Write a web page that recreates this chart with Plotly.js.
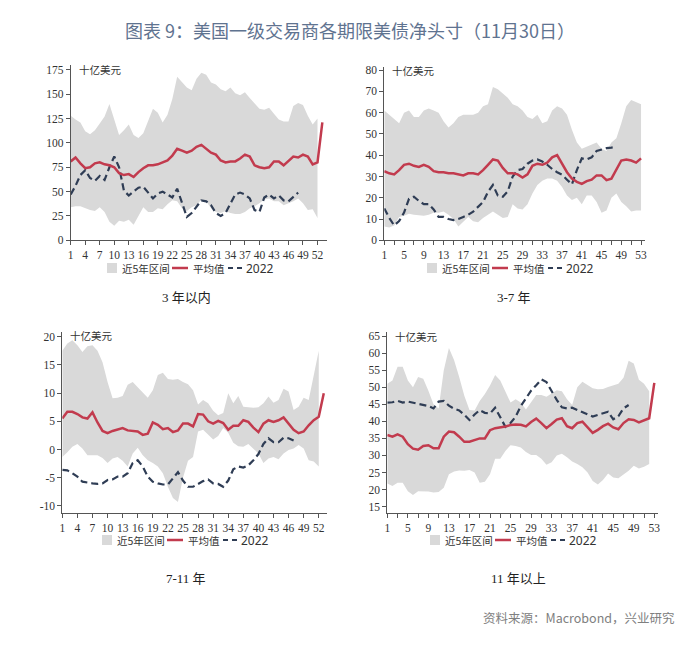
<!DOCTYPE html>
<html>
<head>
<meta charset="utf-8">
<script src="https://cdn.plot.ly/plotly-3.0.1.min.js"></script>
<style>
html,body{margin:0;padding:0;background:#fff;}
#chart{width:700px;height:657px;}
</style>
</head>
<body>
<div id="chart"></div>
<script>
// ---------------- DATA ----------------
const chartTitle = "图表 9：美国一级交易商各期限美债净头寸（11月30日）";
const sourceText = "资料来源：Macrobond，兴业研究";
const panelTitles = ["3 年以内", "3-7 年", "7-11 年", "11 年以上"];
const unitLabel = "十亿美元";
const legendNames = ["近5年区间", "平均值", "2022"];

const weeks = [1,2,3,4,5,6,7,8,9,10,11,12,13,14,15,16,17,18,19,20,21,22,23,24,25,26,27,28,29,30,31,32,33,34,35,36,37,38,39,40,41,42,43,44,45,46,47,48,49,50,51,52,53];

// Panel 1: 3 年以内
const p1Upper = [128,124,121,112,109,113,120,127,140,125,108,113,119,108,105,110,122,135,131,121,129,145,168,163,157,154,166,172,170,162,160,155,153,157,151,149,152,146,140,135,134,136,130,124,122,122,138,141,139,128,119,125];
const p1Lower = [34,35,35,33,31,30,34,29,19,15,20,19,21,16,25,34,29,29,33,32,37,41,40,33,30,34,36,42,40,33,29,28,30,28,27,27,29,33,35,38,42,43,40,40,36,38,40,43,38,31,32,23];
const p1Mean  = [81,85,79,74,75,79,80,78,77,75,69,67,68,65,70,74,77,77,78,80,82,87,94,92,90,92,96,98,94,90,88,82,80,81,81,84,88,86,77,75,74,75,81,81,77,81,86,85,88,86,78,80,121];
const p1Y2022 = [47,56,67,72,64,61,66,62,75,86,75,51,46,50,54,55,49,43,48,50,47,44,53,38,24,28,35,41,40,36,28,25,28,38,47,49,47,43,31,29,44,47,43,46,41,40,45,49];

// Panel 2: 3-7 年
const p2Upper = [61,59,57,55,60,61,58,58,61,62,61,60,56,53,55,58,59,59,59,60,63,64,72,71,69,67,64,63,61,58,57,59,55,56,61,63,62,59,52,46,43,44,45,46,43,42,46,48,55,63,66,65,64];
const p2Lower = [6.5,6,7,11,11.5,12.5,12,11.8,11.5,12,13,13,13.5,12,10,6.5,9,11,9,8.5,10.5,12,13.5,12,10.5,11,17,15,14.5,17,22,26,28,29,29,28,25,21,19,20,17,21,21,18,13,14,20,22,18,16,13.5,14,14];
const p2Mean  = [32.5,31.5,31,33,35.5,36,35,34.5,35.5,34.5,32.5,32,32,31.5,31.5,31,30.5,31.5,31.5,31,33,35.5,38,37.5,34,31.5,31.5,31,29.5,31,35,36,35.5,36.5,39,40,36,32,29,27.5,26.5,27.8,28.5,30.5,30.5,28.3,29,33,37.5,38,37.5,36.5,38.5];
const p2Y2022 = [15,10.5,7,9,13,19.5,20.5,18.5,17,17,14.5,11,11,10,9.5,10,11,12,13.5,16,18,22.8,26,21,20.5,23,30,33,33.5,36,37.5,38,37,35.5,33.5,32,30.8,28.5,26.3,33,38.5,38,39,42,42.8,43.3,43.6,44];

// Panel 3: 7-11 年
const p3Upper = [17.5,18.8,19.4,18.5,17.3,18.3,18.5,17.5,15.5,12,9.1,9.2,9.5,11.5,12,11,10,9.2,10.5,13.2,13.6,12.5,12.4,12.5,12,11.6,10.5,8,8.8,8.2,6.9,6.1,6.5,10,8.2,9.5,7.6,7.5,7.4,7.5,8.2,9.4,8.3,8.8,10.8,10.3,7,7.6,9.2,8.8,13,17.5];
const p3Lower = [-1.3,-0.5,0.5,1,0.2,-1,-1,-1,-1.5,-2.4,-1.6,-1.3,-2,-3,-0.7,0.3,-1,-1.9,-2.4,-3,-4.2,-6.6,-8.6,-9.3,-5,-2,-1.3,3.2,3.5,2.6,1.8,2.4,3.8,3,1.2,0.6,0.5,1,0.2,-0.7,-2.4,-1.6,-1.3,-1.7,-0.7,-0.1,0.2,0.8,0.2,-1.9,-2.1,-3];
const p3Mean  = [5.5,6.7,6.7,6.3,5.7,5.5,6.6,4.8,3.3,2.9,3.3,3.6,3.8,3.4,3.3,3.2,2.6,2.8,4.8,4.4,3.6,3.8,3.1,3.4,4.6,4.6,4.1,6.3,6.2,5,4.6,5.1,4.7,3.5,4.2,4.2,5.2,4.9,3.9,3.1,4.6,5.2,4.9,5.2,5.7,4.6,3.5,2.9,3.2,4.3,5.2,5.8,10];
const p3Y2022 = [-3.6,-3.7,-4.2,-4.8,-5.7,-5.9,-6,-6.1,-6,-5.4,-5.3,-4.8,-4.8,-4.2,-2.4,-1.9,-3,-4.8,-5.7,-6,-6.2,-6.2,-5,-4,-5.5,-6.6,-6.6,-6.1,-5.6,-5.3,-6,-6.1,-6.6,-5.5,-3.5,-3,-3.2,-2.8,-1.9,-0.8,1,2,1.3,1.3,2.1,2,1.6];

// Panel 4: 11 年以上
const p4Upper = [51,52,56,56,52,50,53,52.5,49,45,43.8,55,61.5,58,53,47.5,43.3,43.2,46,48,50.5,53.6,52,48.5,45.5,46.5,45.5,43.5,45.5,47.7,47.7,47.2,48.2,49.1,48.8,46.5,44.8,50,51.6,50.7,49.7,49.4,49.5,50.1,50.6,51,52.8,57.8,57,52.2,51,48.8];
const p4Lower = [21.8,21,22,22,19.5,18.4,19.5,19.5,19.4,19.1,19.3,20.5,24.5,25.3,25.6,25.5,25.7,25,22,22.3,24.5,29,29,31.3,33,32.8,32.3,31,30.1,30.1,29,27.3,28,30,30.5,29.5,28.2,27.5,26.5,25,22.5,21.5,22.8,24.7,23.5,23.3,24.5,25.5,27,26.2,26.7,27.5];
const p4Mean  = [36,35.5,36.2,35.5,33.3,32,31.7,32.8,33,32.1,32.1,35.5,37,36.8,35.5,34,34,34.5,35,35,37.4,38,38.2,38.5,38.9,39.1,39,38.5,39.8,40.8,39.5,38,39.2,40.5,40.9,38.6,38,39.5,39.9,38.2,36.6,37.5,38.6,39.3,38.2,37.7,39.5,40.6,40.4,39.7,40.2,40.9,51.3];
const p4Y2022 = [45.5,45.6,46,45.5,45.8,45.5,45.1,44.8,44.5,43.8,45.8,46,44.6,43.7,43.2,41.9,40.4,42,43.3,42.5,42.3,44,41,38.4,39.5,41.4,44.5,46.7,49,50.6,52.3,51.5,48.7,46.3,44.1,43.8,44,43.3,42.7,41.9,41.4,41.9,42.4,42.8,40.6,41.5,43.8,44.8];

// tick labels
const xTicksA = [1,4,7,10,13,16,19,22,25,28,31,34,37,40,43,46,49,52];
const xTicksB = [1,5,9,13,17,21,25,29,33,37,41,45,49,53];
const yTicks1 = [0,25,50,75,100,125,150,175];
const yTicks2 = [0,10,20,30,40,50,60,70,80];
const yTicks3 = [-10,-5,0,5,10,15,20];
const yTicks4 = [15,20,25,30,35,40,45,50,55,60,65];

// ---------------- STYLE / LAYOUT ----------------
const W = 700, H = 657;
const px = x => x / W;
const py = y => 1 - y / H;

const BAND = '#d9d9d9';
const MEAN = '#c23b4e';
const DASHC = '#2f3d55';
const AXC = '#555555';
const TICKFONT = {family: 'Liberation Serif, Times New Roman, serif', size: 11.5, color: '#333'};
const CJK = 'Noto Sans CJK SC, sans-serif';

const panels = [
  {upper:p1Upper, lower:p1Lower, mean:p1Mean, y22:p1Y2022, xd:[70.7,326.7], yd:[65,240.3], yr:[0,180], xr:[1,53.9], xt:xTicksA, yt:yTicks1, minor:false, leg:[107,268], unit:[77,69], title:[186,297]},
  {upper:p2Upper, lower:p2Lower, mean:p2Mean, y22:p2Y2022, xd:[384.3,645], yd:[66.7,240.3], yr:[0,81.6], xr:[1,53.8], xt:xTicksB, yt:yTicks2, minor:true, leg:[427,268], unit:[390,70], title:[514,297]},
  {upper:p3Upper, lower:p3Lower, mean:p3Mean, y22:p3Y2022, xd:[62.3,327.3], yd:[331.7,512.7], yr:[-11.2,20.9], xr:[1,53.7], xt:xTicksA, yt:yTicks3, minor:false, leg:[102,540], unit:[68,335], title:[186,578]},
  {upper:p4Upper, lower:p4Lower, mean:p4Mean, y22:p4Y2022, xd:[387.3,657.7], yd:[331.7,512.7], yr:[13.2,66.3], xr:[1,53.66], xt:xTicksB, yt:yTicks4, minor:true, leg:[430,540], unit:[393,336], title:[518,578]}
];

const traces = [];
const layout = {
  width: W, height: H,
  margin: {l:0, r:0, t:0, b:0},
  paper_bgcolor: '#ffffff', plot_bgcolor: 'rgba(0,0,0,0)',
  showlegend: false,
  annotations: [], shapes: []
};

panels.forEach((p, i) => {
  const n = i + 1;
  const xa = 'x' + (n === 1 ? '' : n), ya = 'y' + (n === 1 ? '' : n);
  const bandX = weeks.slice(0, p.upper.length);
  traces.push({x: bandX, y: p.lower, xaxis: xa, yaxis: ya, type: 'scatter', mode: 'lines',
    line: {width: 0, color: BAND}, hoverinfo: 'skip', name: legendNames[0]});
  traces.push({x: bandX, y: p.upper, xaxis: xa, yaxis: ya, type: 'scatter', mode: 'lines',
    fill: 'tonexty', fillcolor: BAND, line: {width: 0, color: BAND}, name: legendNames[0]});
  traces.push({x: weeks.slice(0, p.y22.length), y: p.y22, xaxis: xa, yaxis: ya, type: 'scatter', mode: 'lines',
    line: {width: 2.2, color: DASHC, dash: '7px,4px'}, name: legendNames[2]});
  traces.push({x: weeks.slice(0, p.mean.length), y: p.mean, xaxis: xa, yaxis: ya, type: 'scatter', mode: 'lines',
    line: {width: 2.5, color: MEAN}, name: legendNames[1]});

  const xk = 'xaxis' + (n === 1 ? '' : n), yk = 'yaxis' + (n === 1 ? '' : n);
  layout[xk] = {
    domain: [px(p.xd[0]), px(p.xd[1])], anchor: ya, range: p.xr,
    tickmode: 'array', tickvals: p.xt, ticktext: p.xt.map(String),
    showline: true, linecolor: AXC, linewidth: 1, ticks: 'outside', ticklen: 4, tickcolor: AXC,
    showgrid: false, zeroline: false, tickfont: TICKFONT, fixedrange: true
  };
  if (p.minor) {
    layout[xk].minor = {tickmode: 'linear', tick0: 1, dtick: 2, ticks: 'outside', ticklen: 4, tickcolor: AXC, showgrid: false};
  }
  layout[yk] = {
    domain: [py(p.yd[1]), py(p.yd[0])], anchor: xa, range: p.yr,
    tickmode: 'array', tickvals: p.yt, ticktext: p.yt.map(String),
    showline: true, linecolor: AXC, linewidth: 1, ticks: 'outside', ticklen: 4, tickcolor: AXC,
    showgrid: false, zeroline: false, tickfont: TICKFONT, fixedrange: true
  };

  // unit label
  layout.annotations.push({xref:'paper', yref:'paper', x: px(p.unit[0]), y: py(p.unit[1]), xanchor:'left', yanchor:'middle',
    text: unitLabel, showarrow:false, font:{family: CJK, size: 10.5, color:'#333'}});
  // panel title
  layout.annotations.push({xref:'paper', yref:'paper', x: px(p.title[0]), y: py(p.title[1]), xanchor:'center', yanchor:'middle',
    text: panelTitles[i], showarrow:false, font:{family: 'Liberation Serif, Noto Sans CJK SC, serif', size: 13, color:'#222'}});

  // legend (drawn manually)
  const lx = p.leg[0], ly = p.leg[1];
  layout.shapes.push({type:'rect', xref:'paper', yref:'paper', x0: px(lx), x1: px(lx+10), y0: py(ly+5), y1: py(ly-5),
    fillcolor: BAND, line:{width:0}});
  layout.annotations.push({xref:'paper', yref:'paper', x: px(lx+13), y: py(ly), xanchor:'left', yanchor:'middle',
    text: legendNames[0], showarrow:false, font:{family: CJK, size: 10.5, color:'#333'}});
  layout.shapes.push({type:'line', xref:'paper', yref:'paper', x0: px(lx+65), x1: px(lx+81), y0: py(ly), y1: py(ly),
    line:{color: MEAN, width: 2.5}});
  layout.annotations.push({xref:'paper', yref:'paper', x: px(lx+84), y: py(ly), xanchor:'left', yanchor:'middle',
    text: legendNames[1], showarrow:false, font:{family: CJK, size: 10.5, color:'#333'}});
  layout.shapes.push({type:'line', xref:'paper', yref:'paper', x0: px(lx+121), x1: px(lx+135), y0: py(ly), y1: py(ly),
    line:{color: DASHC, width: 2.2, dash: '5px,4px'}});
  layout.annotations.push({xref:'paper', yref:'paper', x: px(lx+137), y: py(ly), xanchor:'left', yanchor:'middle',
    text: legendNames[2], showarrow:false, font:{family: 'Noto Sans, sans-serif', size: 12, color:'#333'}});
});

// main title
layout.annotations.push({xref:'paper', yref:'paper', x: 0.5, y: py(30), xanchor:'center', yanchor:'middle',
  text: chartTitle, showarrow:false, font:{family: CJK, size: 18, color:'#5f7390'}});
// source
layout.annotations.push({xref:'paper', yref:'paper', x: px(677), y: py(617), xanchor:'right', yanchor:'middle',
  text: sourceText, showarrow:false, font:{family: CJK, size: 12.5, color:'#808080'}});

Plotly.newPlot('chart', traces, layout, {staticPlot: true, displayModeBar: false});
</script>
</body>
</html>
